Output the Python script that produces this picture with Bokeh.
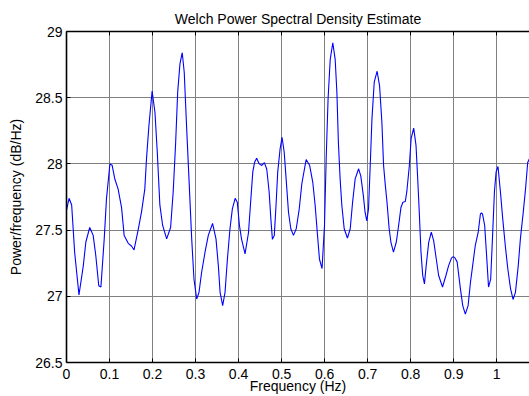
from bokeh.plotting import figure
from bokeh.models import Range1d, LinearAxis, FixedTicker
from bokeh.embed import file_html
from bokeh.resources import INLINE

freq = [0.000, 0.006, 0.012, 0.019, 0.029, 0.039, 0.045, 0.054, 0.062, 0.068,
        0.075, 0.080, 0.0876, 0.093, 0.101, 0.106, 0.112, 0.120, 0.128, 0.134,
        0.1435, 0.151, 0.157, 0.167, 0.1745, 0.182, 0.186, 0.1916, 0.199, 0.2056,
        0.211, 0.217, 0.2235, 0.2328, 0.242, 0.248, 0.2537, 0.2584, 0.2637, 0.269,
        0.2737, 0.279, 0.2847, 0.291, 0.2963, 0.3026, 0.308, 0.314, 0.322, 0.3296,
        0.3395, 0.3475, 0.353, 0.357, 0.363, 0.3685, 0.374, 0.380, 0.3855, 0.392,
        0.397, 0.402, 0.407, 0.415, 0.423, 0.428, 0.433, 0.437, 0.442, 0.448,
        0.454, 0.460, 0.4655, 0.471, 0.475, 0.4786, 0.483, 0.487, 0.491, 0.4965,
        0.501, 0.506, 0.5105, 0.516, 0.5214, 0.5275, 0.534, 0.541, 0.547, 0.557,
        0.565, 0.5725, 0.578, 0.583, 0.588, 0.594, 0.5997, 0.6036, 0.608, 0.613,
        0.619, 0.6245, 0.6285, 0.632, 0.636, 0.640, 0.6455, 0.653, 0.6595, 0.665,
        0.671, 0.679, 0.684, 0.690, 0.694, 0.698, 0.702, 0.706, 0.710, 0.7153,
        0.722, 0.7277, 0.733, 0.737, 0.741, 0.745, 0.750, 0.754, 0.760, 0.7666,
        0.772, 0.7775, 0.782, 0.7875, 0.791, 0.797, 0.801, 0.807, 0.8124, 0.816,
        0.820, 0.824, 0.828, 0.832, 0.836, 0.842, 0.848, 0.8534, 0.8596, 0.865,
        0.874, 0.882, 0.888, 0.895, 0.899, 0.903, 0.908, 0.9155, 0.921, 0.927,
        0.9335, 0.939, 0.944, 0.950, 0.957, 0.962, 0.9645, 0.967, 0.972, 0.976,
        0.981, 0.986, 0.9907, 0.9947, 0.9986, 1.003, 1.0086, 1.014, 1.020, 1.0257,
        1.032, 1.038, 1.0435, 1.050, 1.055, 1.0615, 1.067, 1.072, 1.076]

psd_db = [27.65, 27.74, 27.69, 27.33, 27.01, 27.23, 27.41, 27.52, 27.46, 27.31,
          27.08, 27.07, 27.43, 27.74, 28.00, 27.99, 27.89, 27.81, 27.67, 27.46,
          27.40, 27.38, 27.35, 27.51, 27.64, 27.81, 28.04, 28.29, 28.55, 28.39,
          28.09, 27.69, 27.535, 27.434, 27.52, 27.79, 28.16, 28.54, 28.756, 28.84,
          28.69, 28.29, 27.887, 27.434, 27.13, 26.98, 27.03, 27.18, 27.333, 27.46,
          27.55, 27.434, 27.23, 27.03, 26.93, 27.03, 27.28, 27.51, 27.66, 27.74,
          27.71, 27.535, 27.43, 27.32, 27.48, 27.71, 27.94, 28.01, 28.043, 28.00,
          27.988, 28.01, 27.96, 27.79, 27.585, 27.43, 27.46, 27.686, 27.94, 28.114,
          28.20, 28.09, 27.887, 27.635, 27.51, 27.46, 27.51, 27.66, 27.85, 28.033,
          27.99, 27.86, 27.686, 27.48, 27.28, 27.21, 27.535, 28.04, 28.49, 28.79,
          28.915, 28.79, 28.54, 28.16, 27.887, 27.686, 27.51, 27.44, 27.51, 27.71,
          27.887, 27.963, 27.91, 27.76, 27.635, 27.57, 27.66, 27.99, 28.34, 28.617,
          28.70, 28.59, 28.32, 27.99, 27.84, 27.71, 27.51, 27.41, 27.333, 27.41,
          27.535, 27.673, 27.71, 27.716, 27.79, 27.99, 28.19, 28.27, 28.14, 27.91,
          27.635, 27.333, 27.157, 27.094, 27.23, 27.41, 27.484, 27.42, 27.28, 27.157,
          27.07, 27.157, 27.23, 27.29, 27.30, 27.29, 27.26, 27.06, 26.93, 26.865,
          26.93, 27.106, 27.23, 27.38, 27.484, 27.62, 27.63, 27.62, 27.535, 27.333,
          27.07, 27.13, 27.484, 27.79, 27.94, 27.98, 27.79, 27.585, 27.38, 27.21,
          27.06, 26.976, 27.03, 27.23, 27.434, 27.63, 27.81, 28.01, 28.04]

x_ticks = [0, 0.1, 0.2, 0.3, 0.4, 0.5, 0.6, 0.7, 0.8, 0.9, 1.0]
x_tick_labels = ["0", "0.1", "0.2", "0.3", "0.4", "0.5", "0.6", "0.7", "0.8", "0.9", "1"]
y_ticks = [26.5, 27, 27.5, 28, 28.5, 29]
y_tick_labels = ["26.5", "27", "27.5", "28", "28.5", "29"]

title_text = "Welch Power Spectral Density Estimate"
x_label = "Frequency (Hz)"
y_label = "Power/frequency (dB/Hz)"

FONT = "Liberation Sans"
FS = "14px"

x_lo, x_hi = 0, 1.0762
y_lo, y_hi = 26.5, 29

p = figure(width=529, height=396, output_backend="svg", toolbar_location=None,
           x_range=Range1d(x_lo, x_hi), y_range=Range1d(y_lo, y_hi),
           min_border_left=66, min_border_right=0, min_border_top=31,
           min_border_bottom=34)

p.outline_line_color = None
p.background_fill_color = "white"
p.border_fill_color = "white"

p.line(freq, psd_db, line_color="#0000ff", line_width=1.1)

def style_axis(ax, ticks, labels, show_labels=True):
    ax.ticker = FixedTicker(ticks=ticks)
    ax.major_label_overrides = {t: l for t, l in zip(ticks, labels)}
    ax.major_tick_in = 4
    ax.major_tick_out = 0
    ax.minor_tick_in = 0
    ax.minor_tick_out = 0
    ax.axis_line_color = "black"
    ax.axis_line_width = 1.6
    ax.major_tick_line_color = "black"
    ax.major_label_text_font = FONT
    ax.major_label_text_font_size = FS
    ax.major_label_text_color = "black" if show_labels else None
    ax.axis_label_text_font = FONT
    ax.axis_label_text_font_size = FS
    ax.axis_label_text_font_style = "normal"
    ax.axis_label_text_color = "black"

style_axis(p.xaxis[0], x_ticks, x_tick_labels)
style_axis(p.yaxis[0], y_ticks, y_tick_labels)
p.xaxis[0].axis_label = x_label
p.yaxis[0].axis_label = y_label
p.xaxis[0].major_label_standoff = 6
p.xaxis[0].axis_label_standoff = -4
p.yaxis[0].major_label_standoff = 4
p.yaxis[0].axis_label_standoff = 8

# top axis: box line, inward ticks, and the title as its label
top_axis = LinearAxis()
style_axis(top_axis, x_ticks, x_tick_labels, show_labels=False)
top_axis.major_label_text_font_size = "0px"
top_axis.major_label_standoff = 0
top_axis.axis_label = title_text
top_axis.axis_label_standoff = 5
p.add_layout(top_axis, "above")

p.xgrid.ticker = FixedTicker(ticks=x_ticks)
p.ygrid.ticker = FixedTicker(ticks=y_ticks)
for g in (p.xgrid[0], p.ygrid[0]):
    g.grid_line_color = "#808080"
    g.grid_line_width = 1
    g.grid_line_alpha = 1.0

open("out.html", "w").write(file_html(p, INLINE))
